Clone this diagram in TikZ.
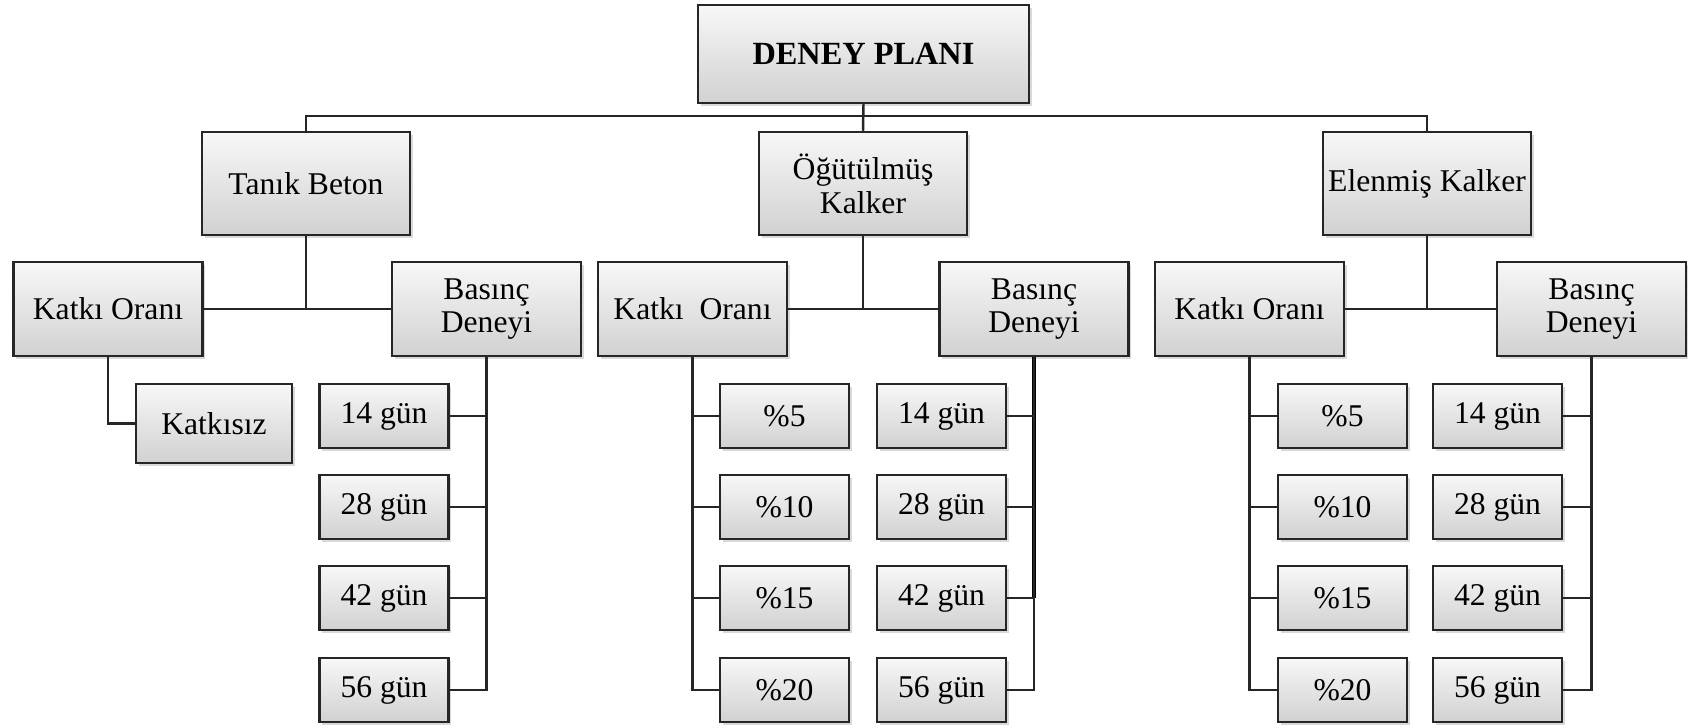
\documentclass[tikz,border=0pt]{standalone}
\usepackage{fontspec}
\setmainfont{Liberation Serif}
\usetikzlibrary{shadows}

\begin{document}
\begin{tikzpicture}[
    kutu/.style={draw=black!85, line width=0.7pt, top color=gray!6, bottom color=gray!36,
        drop shadow={opacity=0.3, shadow xshift=0.8pt, shadow yshift=-0.8pt},
        inner sep=0pt, align=center, font=\fontsize{9}{9.6}\selectfont},
    ana/.style={kutu, minimum width=3.31cm, minimum height=0.98cm, font=\fontsize{9.2}{9.6}\selectfont\bfseries},
    grup/.style={kutu, minimum width=2.08cm, minimum height=1.03cm},
    dal/.style={kutu, minimum width=1.89cm, minimum height=0.94cm},
    yaprak/.style={kutu, minimum width=1.29cm, minimum height=0.64cm},
    hat/.style={draw=black!85, line width=0.7pt},
    kalin/.style={draw=black, line width=1.1pt}]
    \useasboundingbox (0,0) rectangle (16.88,7.28);

    % 1. Ana kutu ve gruplar
    \node[ana] (plan) at (8.635,6.74) {DENEY PLANI};
    \node[grup] (tanik) at (3.06,5.445) {Tanık Beton};
    \node[grup] (ogutulmus) at (8.63,5.445) {Öğütülmüş\\Kalker};
    \node[grup] (elenmis) at (14.27,5.445) {Elenmiş Kalker};
    \draw[hat] (plan.south) -- (ogutulmus.north);
    \draw[hat] (tanik.north) -- ++(0,0.15) -| (elenmis.north);

    % 2. Katkı oranı ve basınç deneyi
    \node[dal] (katkiA) at (1.08,4.19) {Katkı Oranı};
    \node[dal] (basincA) at (4.865,4.19) {Basınç\\Deneyi};
    \node[dal] (katkiB) at (6.925,4.19) {Katkı\ \ Oranı};
    \node[dal] (basincB) at (10.34,4.19) {Basınç\\Deneyi};
    \node[dal] (katkiC) at (12.495,4.19) {Katkı Oranı};
    \node[dal] (basincC) at (15.915,4.19) {Basınç\\Deneyi};
    \draw[hat] (katkiA.east) -- (basincA.west);
    \draw[hat] (katkiB.east) -- (basincB.west);
    \draw[hat] (katkiC.east) -- (basincC.west);
    \draw[hat] (tanik.south) -- (tanik.south |- katkiA.east);
    \draw[hat] (ogutulmus.south) -- (ogutulmus.south |- katkiB.east);
    \draw[hat] (elenmis.south) -- (elenmis.south |- katkiC.east);

    % 3. Oranlar ve günler
    \node[kutu, minimum width=1.56cm, minimum height=0.79cm] (katkisiz) at (2.14,3.045) {Katkısız};
    \draw[hat] (katkiA.south) |- (katkisiz.west);
    \foreach \y/\g/\p [count=\i] in {3.12/14/5, 2.21/28/10, 1.30/42/15, 0.38/56/20} {
        \node[yaprak] (gA\i) at (3.84,\y) {\g\ gün};
        \node[yaprak] (pB\i) at (7.845,\y) {\%\p};
        \node[yaprak] (gB\i) at (9.415,\y) {\g\ gün};
        \node[yaprak] (pC\i) at (13.425,\y) {\%\p};
        \node[yaprak] (gC\i) at (14.975,\y) {\g\ gün};
    }
    \foreach \k in {A,B,C} {
        \draw[kalin] (basinc\k.south) -- (basinc\k.south |- g\k3.east);
        \draw[hat] (basinc\k.south) |- (g\k4.east);
        \foreach \i in {1,2,3}
            \draw[hat] (g\k\i.east) -- (g\k\i.east -| basinc\k.south);
    }
    \foreach \k in {B,C} {
        \draw[hat] (katki\k.south) |- (p\k4.west);
        \foreach \i in {1,2,3}
            \draw[hat] (p\k\i.west) -- (p\k\i.west -| katki\k.south);
    }
\end{tikzpicture}
\end{document}
